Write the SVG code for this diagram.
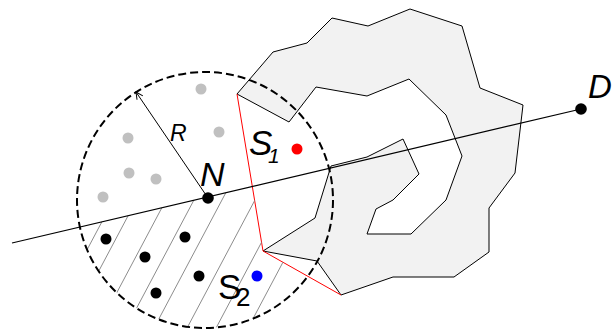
<svg xmlns="http://www.w3.org/2000/svg" width="613" height="330" viewBox="0 0 613 330">
<style>
.lbl{font-family:"Liberation Sans",Arial,sans-serif;fill:#000}
.it{font-style:italic}
.hatch line{stroke:#8c8c8c;stroke-width:1}
.gdot{fill:#c0c0c0}
.bdot{fill:#000}
</style>
<defs>
<clipPath id="cclip"><circle cx="205" cy="200" r="128"/></clipPath>
<clipPath id="hclip"><polygon points="0,245.8 252.3,186.4 263,251 341,295 400,330 0,330"/></clipPath>
<marker id="openArrow" viewBox="-8 -4 9 8" markerWidth="9" markerHeight="8" refX="0" refY="0" orient="auto" markerUnits="userSpaceOnUse">
<path d="M-7,-3.5 L0,0 L-7,3.5" fill="none" stroke="#000" stroke-width="1"/>
</marker>
</defs>
<g id="region">
<polygon points="237,94 273,52 307,43 332,18 368,26 410,9 462,26 480,88 523,105 515,173 489,208 489,252 454,277 393,277 341,295 317,261 263,251 315,218 331,166 367,157 403,139 419,174 393,200 376,209 367,234 411,234 446,200 462,156 446,115 409,79 367,96 316,87 289,122" fill="#f2f2f2" stroke="#000" stroke-width="1" stroke-linejoin="miter"/>
</g>
<g id="boundary">
<polyline points="237,94 263,251 341,295" fill="none" stroke="#ff0000" stroke-width="1"/>
</g>
<g id="hatch" class="hatch" clip-path="url(#cclip)">
<g clip-path="url(#hclip)">
<line x1="44.5" y1="330" x2="166.5" y2="100"/>
<line x1="67.5" y1="330" x2="189.5" y2="100"/>
<line x1="97" y1="330" x2="219" y2="100"/>
<line x1="125" y1="330" x2="247" y2="100"/>
<line x1="153" y1="330" x2="275" y2="100"/>
<line x1="186" y1="330" x2="308" y2="100"/>
<line x1="215" y1="330" x2="337" y2="100"/>
<line x1="247" y1="330" x2="369" y2="100"/>
</g>
</g>
<g id="circle">
<circle cx="205" cy="200" r="128" fill="none" stroke="#000" stroke-width="2" stroke-dasharray="8,4"/>
</g>
<g id="connectors">
<line x1="12" y1="243" x2="581" y2="109" stroke="#000" stroke-width="1.2"/>
<line x1="208" y1="198" x2="136" y2="92" stroke="#000" stroke-width="1" marker-end="url(#openArrow)"/>
</g>
<g id="points-gray">
<circle class="gdot" cx="201" cy="89" r="5.5"/>
<circle class="gdot" cx="219" cy="132" r="5.5"/>
<circle class="gdot" cx="128" cy="138" r="5.5"/>
<circle class="gdot" cx="129" cy="173" r="5.5"/>
<circle class="gdot" cx="156" cy="179" r="5.5"/>
<circle class="gdot" cx="103" cy="197" r="5.5"/>
</g>
<g id="points-black">
<circle class="bdot" cx="106" cy="239" r="5.5"/>
<circle class="bdot" cx="145" cy="257" r="5.5"/>
<circle class="bdot" cx="156" cy="293" r="5.5"/>
<circle class="bdot" cx="185" cy="237" r="5.5"/>
<circle class="bdot" cx="199" cy="276" r="5.5"/>
</g>
<g id="node-N">
<circle cx="208" cy="198" r="5.8" fill="#000"/>
<text class="lbl it" x="200" y="186" font-size="34">N</text>
</g>
<g id="node-D">
<circle cx="581" cy="109" r="5.8" fill="#000"/>
<text class="lbl it" x="588" y="98" font-size="33">D</text>
</g>
<g id="node-S1">
<circle cx="297" cy="149" r="5.5" fill="#ff0000"/>
<text class="lbl it" x="249" y="155" font-size="35">S</text>
<text class="lbl it" x="268" y="163" font-size="21">1</text>
</g>
<g id="node-S2">
<circle cx="257" cy="276" r="5.5" fill="#0000ff"/>
<text class="lbl" x="218" y="299" font-size="35">S</text>
<text class="lbl" x="236" y="306" font-size="26">2</text>
</g>
<g id="label-R">
<text class="lbl it" x="170" y="141" font-size="23">R</text>
</g>
</svg>
